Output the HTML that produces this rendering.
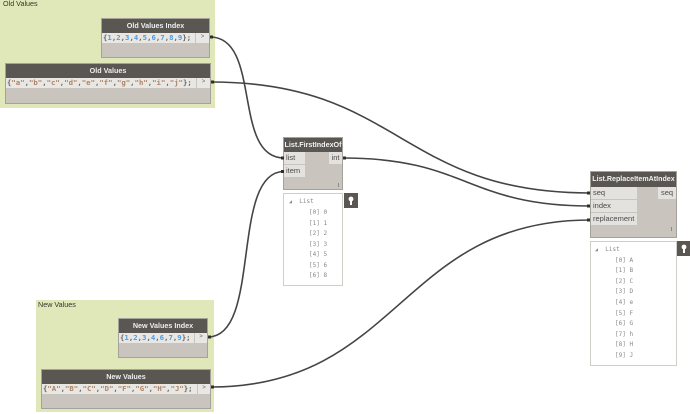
<!DOCTYPE html>
<html><head><meta charset="utf-8"><style>
html,body{margin:0;padding:0;background:#fff}
#p{position:relative;width:690px;height:414px;overflow:hidden;background:#fff;font-family:"Liberation Sans",sans-serif}
#p div{position:absolute;box-sizing:border-box;white-space:nowrap}
.g{background:#e0e8ba}
.gt{font-size:7.2px;color:#33352a;line-height:10px}
.n{background:#c9c5be;border:1px solid #a5a29c}
.h{left:0;right:0;top:0;height:14px;background:#5a5651;color:#eee;font-size:7.2px;font-weight:bold;text-align:center;line-height:14px}
.c{background:#e9e7e3;font-family:"DejaVu Sans Mono","Liberation Mono",monospace;font-size:7.3px;line-height:10px;height:10px;top:14px;left:0;color:#666;padding-left:1px;overflow:hidden;font-weight:bold}
.c b{color:#4a9ce8;font-weight:bold}.c i{color:#ad8468;font-style:normal}
.a{background:#e9e7e3;top:14px;height:10px;color:#666;font-size:6px;line-height:9px;text-align:center}
.r{background:#e4e2de;color:#4a4a4a;font-size:7.5px;line-height:12px;padding-left:2px;left:0;height:12px}
.w{background:#fff;border:1px solid #d0cec9}
.t{font-family:"DejaVu Sans Mono","Liberation Mono",monospace;font-size:6px;color:#888;line-height:10px}
.pin{background:#5a5651}
svg{position:absolute;left:0;top:0}
</style></head><body><div id="p">
<div class="g" style="left:0;top:0;width:215px;height:108px"></div>
<div class="gt" style="left:3px;top:-1px">Old Values</div>
<div class="g" style="left:36px;top:300px;width:178px;height:112px"></div>
<div class="gt" style="left:38px;top:300px">New Values</div>

<div class="n" style="left:101px;top:18px;width:109px;height:40px"><div class="h">Old Values Index</div><div class="c" style="width:93px">{<b>1</b>,<b>2</b>,<b>3</b>,<b>4</b>,<b>5</b>,<b>6</b>,<b>7</b>,<b>8</b>,<b>9</b>};</div><div class="a" style="left:94px;width:13px">&gt;</div></div>
<div class="n" style="left:5px;top:63px;width:206px;height:41px"><div class="h">Old Values</div><div class="c" style="width:190px">{<i>"a"</i>,<i>"b"</i>,<i>"c"</i>,<i>"d"</i>,<i>"e"</i>,<i>"f"</i>,<i>"g"</i>,<i>"h"</i>,<i>"i"</i>,<i>"j"</i>};</div><div class="a" style="left:191px;width:13px">&gt;</div></div>
<div class="n" style="left:118px;top:318px;width:90px;height:40px"><div class="h">New Values Index</div><div class="c" style="width:75px">{<b>1</b>,<b>2</b>,<b>3</b>,<b>4</b>,<b>6</b>,<b>7</b>,<b>9</b>};</div><div class="a" style="left:76px;width:12px">&gt;</div></div>
<div class="n" style="left:41px;top:369px;width:170px;height:40px"><div class="h">New Values</div><div class="c" style="width:155px">{<i>"A"</i>,<i>"B"</i>,<i>"C"</i>,<i>"D"</i>,<i>"F"</i>,<i>"G"</i>,<i>"H"</i>,<i>"J"</i>};</div><div class="a" style="left:156px;width:12px">&gt;</div></div>

<div class="n" style="left:283px;top:137px;width:60px;height:53px"><div class="h" style="color:#f2f2f2">List.FirstIndexOf</div>
<div class="r" style="top:14px;width:21px">list</div><div class="r" style="top:27px;width:21px">item</div>
<div class="r" style="top:14px;left:45px;width:13px;padding-left:0;text-align:center">int</div>
<div style="left:54px;top:45px;font-size:5px;color:#444">l</div></div>
<div class="w" style="left:283px;top:193px;width:60px;height:93px"></div>
<div class="t" style="left:289px;top:197px"><span style="font-size:5px">◢</span> &nbsp;List</div>
<div class="t" style="left:309px;top:208px">[0] 0</div>
<div class="t" style="left:309px;top:219px">[1] 1</div>
<div class="t" style="left:309px;top:229px">[2] 2</div>
<div class="t" style="left:309px;top:240px">[3] 3</div>
<div class="t" style="left:309px;top:250px">[4] 5</div>
<div class="t" style="left:309px;top:261px">[5] 6</div>
<div class="t" style="left:309px;top:271px">[6] 8</div>
<div class="pin" style="left:344px;top:193px;width:14px;height:15px"></div>

<div class="n" style="left:590px;top:171px;width:87px;height:67px"><div class="h" style="height:15px;font-size:7.1px;line-height:15px;color:#f2f2f2">List.ReplaceItemAtIndex</div>
<div class="r" style="top:15px;width:46px">seq</div><div class="r" style="top:28px;width:46px">index</div><div class="r" style="top:41px;width:46px">replacement</div>
<div class="r" style="top:15px;left:67px;width:18px;padding-left:0;text-align:center">seq</div>
<div style="left:80px;top:55px;font-size:5px;color:#444">l</div></div>
<div class="w" style="left:590px;top:241px;width:87px;height:125px"></div>
<div class="t" style="left:595px;top:245px"><span style="font-size:5px">◢</span> &nbsp;List</div>
<div class="t" style="left:615px;top:256px">[0] A</div>
<div class="t" style="left:615px;top:266px">[1] B</div>
<div class="t" style="left:615px;top:277px">[2] C</div>
<div class="t" style="left:615px;top:287px">[3] D</div>
<div class="t" style="left:615px;top:298px">[4] e</div>
<div class="t" style="left:615px;top:309px">[5] F</div>
<div class="t" style="left:615px;top:319px">[6] G</div>
<div class="t" style="left:615px;top:330px">[7] h</div>
<div class="t" style="left:615px;top:340px">[8] H</div>
<div class="t" style="left:615px;top:351px">[9] J</div>
<div class="pin" style="left:677px;top:241px;width:13px;height:15px"></div>
<svg width="690" height="414" style="left:0;top:0"><g fill="#fff"><circle cx="351" cy="199" r="2.4"/><rect x="350" y="200" width="2" height="5"/><circle cx="684" cy="247" r="2.4"/><rect x="683" y="248" width="2" height="5"/></g>
<g fill="none" stroke="#444" stroke-width="1.6">
<path d="M210 37C262 37 232 158 284 158"/>
<path d="M211 82C400 82 400 193 590 193"/>
<path d="M343 158C467 158 467 206 590 206"/>
<path d="M208 337C262 337 230 171.500 284 171.500"/>
<path d="M211 387C400 387 400 220 590 220"/>
</g>
<g fill="#2e2e2e"><rect x="210" y="35.500" width="3" height="3"/><rect x="211" y="80.500" width="3" height="3"/><rect x="208" y="335.500" width="3" height="3"/><rect x="211" y="385.500" width="3" height="3"/><rect x="343" y="156.500" width="3" height="3"/><rect x="281" y="156.500" width="3" height="3"/><rect x="281" y="170" width="3" height="3"/><rect x="587" y="191.500" width="3" height="3"/><rect x="587" y="204.500" width="3" height="3"/><rect x="587" y="218.500" width="3" height="3"/></g></svg>
</div></body></html>
